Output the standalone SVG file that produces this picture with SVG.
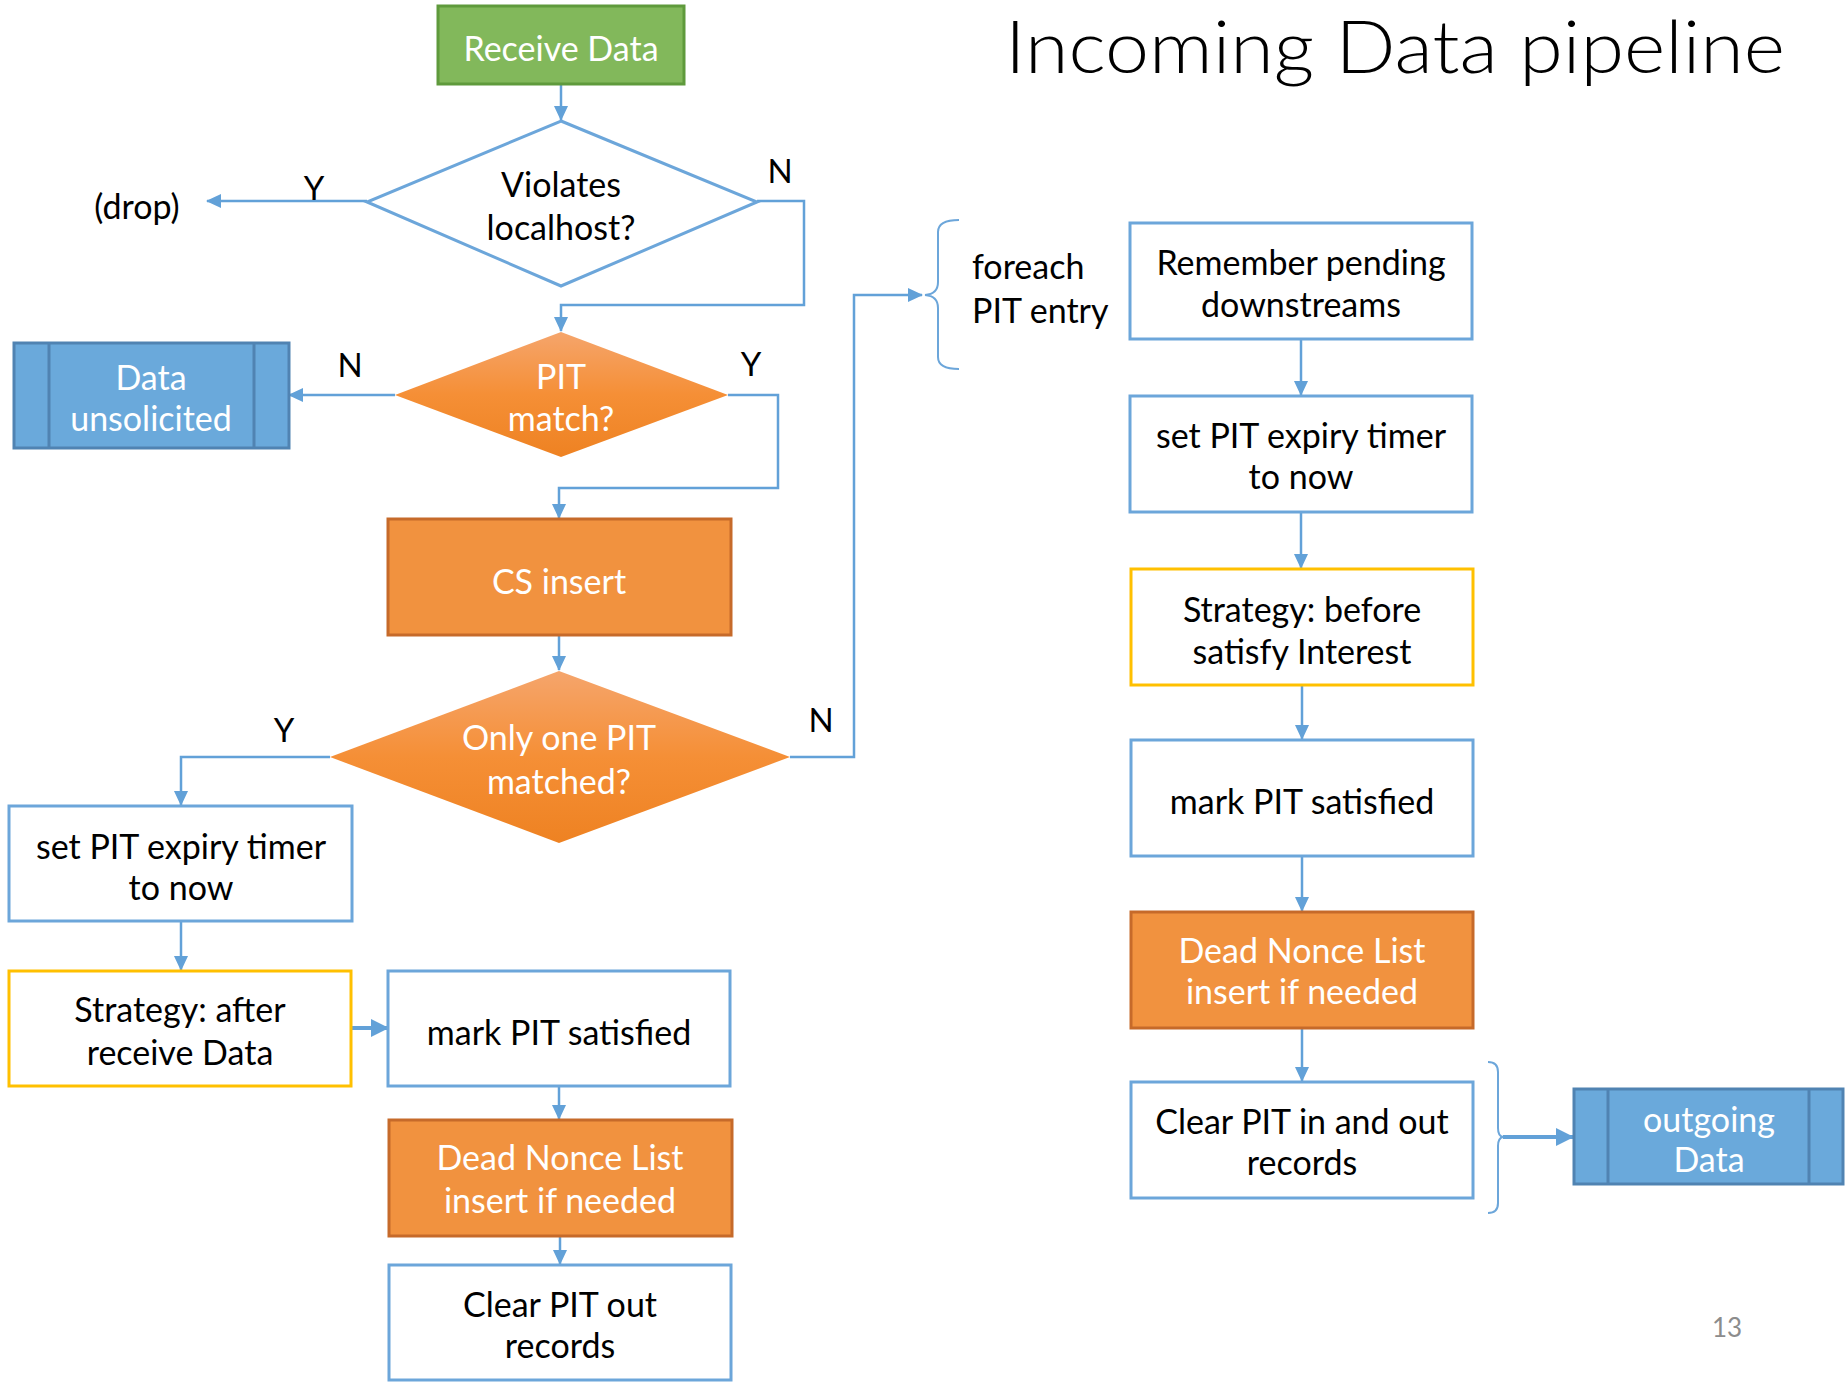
<svg xmlns="http://www.w3.org/2000/svg" width="1845" height="1383" viewBox="0 0 1845 1383">
<defs>
<style>
text{font-family:Lato,"Open Sans","Liberation Sans",sans-serif;font-size:34px;text-anchor:middle;fill:#000}
.w{fill:#fff}
.lbl{font-size:33px}
.box{fill:#fff;stroke:#6CA6DA;stroke-width:3}
.ybox{fill:#fff;stroke:#FFC000;stroke-width:3}
.org{fill:#F1923F;stroke:#C66A2A;stroke-width:3}
.blu{fill:#6AA9DB;stroke:#5083B2;stroke-width:3}
.con{fill:none;stroke:#62A1D8;stroke-width:2.5}
.thick{fill:none;stroke:#62A1D8;stroke-width:4}
.brace{fill:none;stroke:#6CA6DA;stroke-width:2}
</style>
<linearGradient id="og" x1="0" y1="0" x2="0" y2="1">
<stop offset="0" stop-color="#F5A56C"/>
<stop offset="0.5" stop-color="#F58F36"/>
<stop offset="1" stop-color="#EE8222"/>
</linearGradient>
<marker id="a" markerUnits="userSpaceOnUse" markerWidth="15" markerHeight="14" viewBox="0 0 15 14" refX="14" refY="7" orient="auto">
<path d="M0 0 L15 7 L0 14 Z" fill="#62A1D8"/>
</marker>
<marker id="ab" markerUnits="userSpaceOnUse" markerWidth="18" markerHeight="18" viewBox="0 0 18 18" refX="17" refY="9" orient="auto">
<path d="M0 0 L18 9 L0 18 Z" fill="#62A1D8"/>
</marker>
</defs>
<rect width="1845" height="1383" fill="#fff"/>

<text x="1005" y="73" style="font-size:72px;font-weight:300;text-anchor:start" textLength="780" lengthAdjust="spacingAndGlyphs">Incoming Data pipeline</text>

<g id="connectors">
<path class="con" d="M561 84 V120" marker-end="url(#a)"/>
<path class="con" d="M367 201 H207" marker-end="url(#a)"/>
<path class="con" d="M757 201 H804 V305 H561 V331" marker-end="url(#a)"/>
<path class="con" d="M395 395 H289" marker-end="url(#a)"/>
<path class="con" d="M728 395 H778 V488 H559 V518" marker-end="url(#a)"/>
<path class="con" d="M559 635 V670" marker-end="url(#a)"/>
<path class="con" d="M790 757 H854 V295 H922" marker-end="url(#a)"/>
<path class="con" d="M330 757 H181 V805" marker-end="url(#a)"/>
<path class="con" d="M181 921 V970" marker-end="url(#a)"/>
<path class="thick" d="M351 1028 H388" marker-end="url(#ab)"/>
<path class="con" d="M559 1086 V1119" marker-end="url(#a)"/>
<path class="con" d="M560 1236 V1264" marker-end="url(#a)"/>
<path class="con" d="M1301 339 V395" marker-end="url(#a)"/>
<path class="con" d="M1301 512 V568" marker-end="url(#a)"/>
<path class="con" d="M1302 685 V739" marker-end="url(#a)"/>
<path class="con" d="M1302 856 V911" marker-end="url(#a)"/>
<path class="con" d="M1302 1028 V1081" marker-end="url(#a)"/>
<path class="thick" d="M1503 1137 H1573" marker-end="url(#ab)"/>
<text x="314" y="200" class="lbl">Y</text>
<text x="780" y="183" class="lbl">N</text>
<text x="350" y="377" class="lbl">N</text>
<text x="751" y="376" class="lbl">Y</text>
<text x="821" y="732" class="lbl">N</text>
<text x="284" y="742" class="lbl">Y</text>
</g>

<g id="receive">
<rect x="438" y="6" width="246" height="78" fill="#82B85B" stroke="#5F9A3C" stroke-width="3"/>
<text x="561" y="61" class="w">Receive Data</text>
</g>

<g id="violates">
<polygon points="561,121 757,202 561,286 367,202" fill="#fff" stroke="#6CA6DA" stroke-width="3"/>
<text x="561" y="197">Violates</text>
<text x="561" y="240">localhost?</text>
</g>

<g id="drop">
<text x="137" y="219">(drop)</text>
</g>

<g id="pitmatch">
<polygon points="561,332 728,395 561,457 395,395" fill="url(#og)"/>
<text x="561" y="389" class="w">PIT</text>
<text x="561" y="431" class="w">match?</text>
</g>

<g id="unsolicited">
<rect x="14" y="343" width="275" height="105" class="blu"/>
<path d="M49 343 V448 M254 343 V448" stroke="#5083B2" stroke-width="3"/>
<text x="151" y="390" class="w">Data</text>
<text x="151" y="431" class="w">unsolicited</text>
</g>

<g id="csinsert">
<rect x="388" y="519" width="343" height="116" class="org"/>
<text x="559" y="594" class="w">CS insert</text>
</g>

<g id="onlyone">
<polygon points="559,671 790,757 559,843 330,757" fill="url(#og)"/>
<text x="559" y="750" class="w">Only one PIT</text>
<text x="559" y="794" class="w">matched?</text>
</g>

<g id="setpit1">
<rect x="9" y="806" width="343" height="115" class="box"/>
<text x="181" y="859">set PIT expiry timer</text>
<text x="181" y="900">to now</text>
</g>

<g id="strategyafter">
<rect x="9" y="971" width="342" height="115" class="ybox"/>
<text x="180" y="1022">Strategy: after</text>
<text x="180" y="1065">receive Data</text>
</g>

<g id="mark1">
<rect x="388" y="971" width="342" height="115" class="box"/>
<text x="559" y="1045">mark PIT satisfied</text>
</g>

<g id="deadnonce1">
<rect x="389" y="1120" width="343" height="116" class="org"/>
<text x="560" y="1170" class="w">Dead Nonce List</text>
<text x="560" y="1213" class="w">insert if needed</text>
</g>

<g id="clearout">
<rect x="389" y="1265" width="342" height="115" class="box"/>
<text x="560" y="1317">Clear PIT out</text>
<text x="560" y="1358">records</text>
</g>

<g id="foreach">
<path class="brace" d="M959 220 Q938 220 938 232 V282 Q938 294 925 295 Q938 296 938 308 V357 Q938 369 959 369"/>
<text x="972" y="279" style="text-anchor:start">foreach</text>
<text x="972" y="323" style="text-anchor:start">PIT entry</text>
</g>

<g id="remember">
<rect x="1130" y="223" width="342" height="116" class="box"/>
<text x="1301" y="275">Remember pending</text>
<text x="1301" y="317">downstreams</text>
</g>

<g id="setpit2">
<rect x="1130" y="396" width="342" height="116" class="box"/>
<text x="1301" y="448">set PIT expiry timer</text>
<text x="1301" y="489">to now</text>
</g>

<g id="strategybefore">
<rect x="1131" y="569" width="342" height="116" class="ybox"/>
<text x="1302" y="622">Strategy: before</text>
<text x="1302" y="664">satisfy Interest</text>
</g>

<g id="mark2">
<rect x="1131" y="740" width="342" height="116" class="box"/>
<text x="1302" y="814">mark PIT satisfied</text>
</g>

<g id="deadnonce2">
<rect x="1131" y="912" width="342" height="116" class="org"/>
<text x="1302" y="963" class="w">Dead Nonce List</text>
<text x="1302" y="1004" class="w">insert if needed</text>
</g>

<g id="clearinout">
<rect x="1131" y="1082" width="342" height="116" class="box"/>
<text x="1302" y="1134">Clear PIT in and out</text>
<text x="1302" y="1175">records</text>
<path class="brace" d="M1488 1062 Q1498 1062 1498 1072 V1128 Q1498 1136 1503 1137 Q1498 1138 1498 1146 V1203 Q1498 1213 1488 1213"/>
</g>

<g id="outgoing">
<rect x="1574" y="1089" width="269" height="95" class="blu"/>
<path d="M1608 1089 V1184 M1809 1089 V1184" stroke="#5083B2" stroke-width="3"/>
<text x="1709" y="1132" class="w">outgoing</text>
<text x="1709" y="1172" class="w">Data</text>
</g>

<text x="1727" y="1337" style="font-size:26px;fill:#8C8C8C">13</text>
</svg>
